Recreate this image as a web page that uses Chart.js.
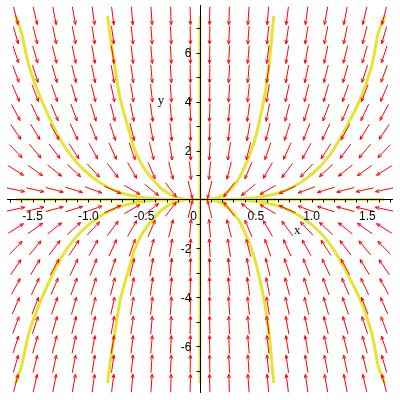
<!DOCTYPE html>
<html>
<head>
<meta charset="utf-8">
<script src="https://cdn.jsdelivr.net/npm/chart.js@4.4.1/dist/chart.umd.min.js"></script>
<style>
  html, body { margin: 0; padding: 0; background: #fff; }
  canvas { display: block; }
</style>
</head>
<body>
<canvas id="chart" width="400" height="400"></canvas>
<script>
// solution curves, upper branches (lower branches are the same with y < 0)
const rightInnerX = [0, 0.09, 0.177, 0.267, 0.341, 0.401, 0.461, 0.507, 0.572, 0.617, 0.646, 0.661];
const rightInnerY = [0, 0.01, 0.11, 0.39, 0.80, 1.34, 2.02, 2.71, 4.06, 5.42, 6.78, 7.5];
const rightOuterX = [0, 0.2, 0.386, 0.565, 0.745, 0.924, 1.074, 1.193, 1.282, 1.432, 1.537, 1.596, 1.655];
const rightOuterY = [0, 0.0, 0.03, 0.12, 0.33, 0.76, 1.34, 2.02, 2.71, 4.06, 5.42, 6.78, 7.5];
const leftInnerX = [0, -0.12, -0.226, -0.331, -0.420, -0.510, -0.584, -0.629, -0.712, -0.763, -0.808, -0.827];
const leftInnerY = [0, 0.01, 0.11, 0.39, 0.80, 1.34, 2.02, 2.71, 4.06, 5.42, 6.78, 7.5];
const leftOuterX = [0, -0.2, -0.390, -0.569, -0.745, -0.920, -1.070, -1.193, -1.282, -1.420, -1.530, -1.598, -1.651];
const leftOuterY = [0, 0.0, 0.03, 0.12, 0.33, 0.76, 1.34, 2.02, 2.71, 4.06, 5.42, 6.78, 7.5];
// the two axis solutions y = 0 and x = 0
const flatX = [-1.65, 1.65];
const uprightY = [-7.5, 7.5];

// direction field: grid of the first quadrant, mirrored into the others
const fieldX = [0.087, 0.261, 0.434, 0.608, 0.782, 0.955, 1.129, 1.303, 1.476, 1.65];
const fieldY = [0.395, 1.184, 1.974, 2.763, 3.553, 4.342, 5.132, 5.921, 6.711, 7.5];
// arrow angle on screen (degrees from horizontal), rows follow fieldY, columns fieldX
const fieldAngle = [
    [76, 53, 39, 30, 24, 20, 17, 15, 13, 12],
    [85, 76, 67, 60, 53, 47, 43, 39, 35, 32],
    [87, 81, 76, 71, 66, 61, 57, 53, 50, 46],
    [88, 84, 80, 76, 72, 69, 65, 62, 59, 56],
    [88, 85, 82, 79, 76, 73, 70, 67, 65, 62],
    [89, 86, 84, 81, 78, 76, 74, 71, 69, 67],
    [89, 87, 85, 82, 80, 78, 76, 74, 72, 70],
    [89, 87, 85, 83, 81, 80, 78, 76, 74, 72],
    [89, 87, 86, 84, 82, 81, 79, 78, 76, 74],
    [89, 88, 86, 85, 83, 82, 80, 79, 77, 76]
];

const xTicks = [-1.5, -1.0, -0.5, 0.5, 1.0, 1.5];
const xTickLabels = ['-1.5', '-1.0', '-0.5', '0.5', '1.0', '1.5'];
const yTicks = [-6, -4, -2, 2, 4, 6];
const yTickLabels = ['-6', '-4', '-2', '2', '4', '6'];

const CURVE = 'rgb(228, 228, 52)';

function branch(xs, ys, sign) {
    return {
        data: xs.map((x, i) => ({ x: x, y: sign * ys[i] })),
        showLine: true,
        borderColor: CURVE,
        borderWidth: 3,
        pointRadius: 0,
        tension: 0.3
    };
}

const datasets = [
    branch(rightInnerX, rightInnerY, 1), branch(rightInnerX, rightInnerY, -1),
    branch(rightOuterX, rightOuterY, 1), branch(rightOuterX, rightOuterY, -1),
    branch(leftInnerX, leftInnerY, 1), branch(leftInnerX, leftInnerY, -1),
    branch(leftOuterX, leftOuterY, 1), branch(leftOuterX, leftOuterY, -1),
    branch(flatX, [0, 0], 1),
    branch([0, 0], uprightY, 1)
];

const fieldAndAxes = {
    id: 'fieldAndAxes',
    afterDatasetsDraw(chart) {
        const ctx = chart.ctx;
        const sx = chart.scales.x;
        const sy = chart.scales.y;
        const area = chart.chartArea;

        // arrows
        ctx.save();
        ctx.strokeStyle = '#ff0000';
        ctx.lineWidth = 1;
        const len = 18;
        const head = 4;
        [-1, 1].forEach(qx => {
            [-1, 1].forEach(qy => {
                fieldY.forEach((fy, r) => {
                    fieldX.forEach((fx, c) => {
                        const a = fieldAngle[r][c] * Math.PI / 180;
                        const cx = sx.getPixelForValue(qx * fx);
                        const cy = sy.getPixelForValue(qy * fy);
                        const dx = -qx * Math.cos(a);
                        const dy = qy * Math.sin(a);
                        const tx = cx + dx * len / 2, ty = cy + dy * len / 2;
                        const bx = cx - dx * len / 2, by = cy - dy * len / 2;
                        ctx.beginPath();
                        ctx.moveTo(bx, by);
                        ctx.lineTo(tx, ty);
                        const ang = Math.atan2(dy, dx);
                        [-0.4, 0.4].forEach(o => {
                            ctx.moveTo(tx, ty);
                            ctx.lineTo(tx - head * Math.cos(ang + o), ty - head * Math.sin(ang + o));
                        });
                        ctx.stroke();
                    });
                });
            });
        });
        ctx.restore();

        // axes through the origin
        const x0 = Math.round(sx.getPixelForValue(0)) + 0.5;
        const y0 = Math.round(sy.getPixelForValue(0)) + 0.5;
        ctx.save();
        ctx.strokeStyle = '#000';
        ctx.lineWidth = 1;
        ctx.beginPath();
        ctx.moveTo(area.left, y0);
        ctx.lineTo(area.right, y0);
        ctx.moveTo(x0, area.top);
        ctx.lineTo(x0, area.bottom);
        for (let i = -17; i <= 17; i++) {
            const px = Math.round(sx.getPixelForValue(i / 10)) + 0.5;
            ctx.moveTo(px, y0);
            ctx.lineTo(px, y0 + 3);
        }
        for (let j = -7; j <= 7; j++) {
            const py = Math.round(sy.getPixelForValue(j)) + 0.5;
            ctx.moveTo(x0, py);
            ctx.lineTo(x0 - 4, py);
        }
        ctx.stroke();

        ctx.fillStyle = '#000';
        ctx.font = '12px "Liberation Sans", Arial, sans-serif';
        ctx.textAlign = 'center';
        ctx.textBaseline = 'alphabetic';
        xTicks.forEach((v, i) => {
            ctx.fillText(xTickLabels[i], sx.getPixelForValue(v), y0 + 20);
        });
        ctx.fillText('0', x0 - 7, y0 + 20);
        ctx.textAlign = 'right';
        yTicks.forEach((v, i) => {
            ctx.fillText(yTickLabels[i], x0 - 9, sy.getPixelForValue(v) + 4.5);
        });

        ctx.font = '13px "Liberation Serif", serif';
        ctx.textAlign = 'center';
        ctx.fillText('x', sx.getPixelForValue(0.87), sy.getPixelForValue(-1.4));
        ctx.fillText('y', sx.getPixelForValue(-0.35), sy.getPixelForValue(3.9));
        ctx.restore();
    }
};

new Chart(document.getElementById('chart'), {
    type: 'scatter',
    data: { datasets: datasets },
    options: {
        responsive: false,
        animation: false,
        layout: { padding: { left: 7, right: 7, top: 5, bottom: 7 } },
        plugins: {
            legend: { display: false },
            tooltip: { enabled: false }
        },
        scales: {
            x: { type: 'linear', min: -1.7288, max: 1.7288, display: false },
            y: { type: 'linear', min: -7.9, max: 7.94, display: false }
        }
    },
    plugins: [fieldAndAxes]
});
</script>
</body>
</html>
